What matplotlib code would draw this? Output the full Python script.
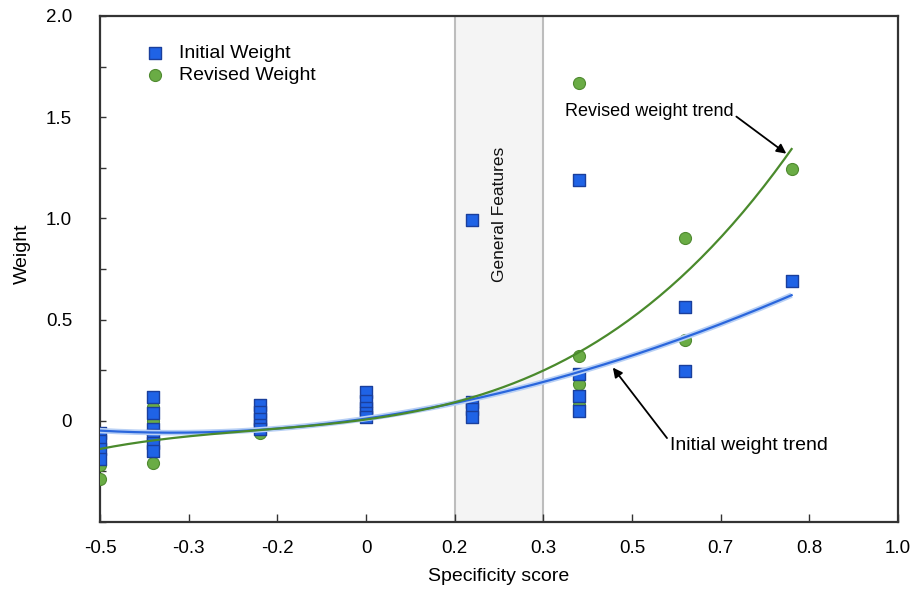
import numpy as np
import matplotlib
matplotlib.use("Agg")
import matplotlib.pyplot as plt
from matplotlib.ticker import FixedLocator, MultipleLocator

plt.rcParams['font.family'] = ['Liberation Sans', 'DejaVu Sans']

# ---- data ----
initial_x = [-0.5, -0.5, -0.5, -0.5,
             -0.4, -0.4, -0.4, -0.4, -0.4, -0.4,
             -0.2, -0.2, -0.2, -0.2, -0.2,
             0.0, 0.0, 0.0, 0.0, 0.0,
             0.2, 0.2, 0.2, 0.2,
             0.4, 0.4, 0.4, 0.4,
             0.6, 0.6,
             0.8]
initial_y = [-0.06, -0.10, -0.14, -0.19,
             0.12, 0.04, -0.04, -0.07, -0.11, -0.15,
             0.08, 0.045, 0.01, -0.02, -0.04,
             0.14, 0.10, 0.065, 0.04, 0.02,
             0.99, 0.095, 0.06, 0.02,
             1.19, 0.23, 0.124, 0.05,
             0.564, 0.247,
             0.691]

revised_x = [-0.5, -0.5,
             -0.4, -0.4, -0.4,
             -0.2,
             0.4, 0.4, 0.4, 0.4,
             0.6, 0.6,
             0.8]
revised_y = [-0.22, -0.29,
             0.07, 0.0, -0.21,
             -0.06,
             1.67, 0.32, 0.18, 0.076,
             0.905, 0.397,
             1.242]

# trend curves read at the data columns
trend_x = [-0.5, -0.4, -0.2, 0.0, 0.2, 0.4, 0.6, 0.8]
initial_trend = [-0.05, -0.06, -0.035, 0.01, 0.094, 0.245, 0.42, 0.617]
revised_trend = [-0.145, -0.095, -0.035, 0.015, 0.09, 0.33, 0.76, 1.33]

band = (1/6, 1/3)
x_ticks = [-0.5 + i / 6 for i in range(10)]
x_tick_labels = ['-0.5', '-0.3', '-0.2', '0', '0.2', '0.3', '0.5', '0.7', '0.8', '1.0']
y_ticks = [0, 0.5, 1.0, 1.5, 2.0]
y_tick_labels = ['0', '0.5', '1.0', '1.5', '2.0']

fig = plt.figure(figsize=(9.14, 5.90), dpi=100)
ax = fig.add_axes([100/914, 1 - 522/590, 798/914, 506/590])

ax.set_xlim(-0.5, 1.0)
ax.set_ylim(-0.5, 2.0)

# shaded band
ax.axvspan(band[0], band[1], facecolor='#f4f4f4', edgecolor='none', zorder=0)
for bx in band:
    ax.axvline(bx, color='#bdbdbd', lw=1.5, zorder=1)
ax.text(sum(band) / 2, 1.02, 'General Features', rotation=90, ha='center', va='center',
        fontsize=12.5, color='#111111')

# points
ax.scatter(revised_x, revised_y, marker='o', s=75, facecolor='#6aac45',
           edgecolor='#4f8a30', linewidth=0.8, zorder=3, label='Revised Weight')
ax.scatter(initial_x, initial_y, marker='s', s=75, facecolor='#1f63e6',
           edgecolor='#1a3f9c', linewidth=1.0, zorder=4, label='Initial Weight')

# trend curves
xs = np.linspace(-0.5, 0.8, 200)
pi = np.polyfit(trend_x, initial_trend, 3)
pr = np.polyfit(trend_x, revised_trend, 3)
ax.plot(xs, np.polyval(pi, xs), color='#b8d0f5', lw=4, zorder=5, solid_capstyle='butt')
ax.plot(xs, np.polyval(pi, xs), color='#2a66dc', lw=1.6, zorder=6)
ax.plot(xs, np.polyval(pr, xs), color='#4a8a2c', lw=1.6, zorder=6)

# annotations
ax.annotate('Revised weight trend', xy=(0.79, 1.32), xytext=(0.374, 1.53),
            fontsize=13, ha='left', va='center',
            arrowprops=dict(arrowstyle='-|>', color='black', lw=1.3,
                            shrinkA=0, shrinkB=0, mutation_scale=14,
                            relpos=(1.0, 0.3)))
ax.annotate('Initial weight trend', xy=(0.464, 0.263), xytext=(0.571, -0.12),
            fontsize=14, ha='left', va='center',
            arrowprops=dict(arrowstyle='-|>', color='black', lw=1.3,
                            shrinkA=0, shrinkB=0, mutation_scale=14,
                            relpos=(0.0, 0.7)))

# axes styling
ax.xaxis.set_major_locator(FixedLocator(x_ticks))
ax.set_xticklabels(x_tick_labels)
ax.yaxis.set_major_locator(FixedLocator(y_ticks))
ax.set_yticklabels(y_tick_labels)
ax.yaxis.set_minor_locator(MultipleLocator(0.25))
ax.tick_params(axis='both', which='both', direction='in', labelsize=13.5,
               color='#333333', width=1.0)
ax.tick_params(axis='x', which='major', length=6, pad=13)
ax.tick_params(axis='y', which='major', length=4, pad=20)
ax.tick_params(axis='y', which='minor', length=4)
for sp in ax.spines.values():
    sp.set_color('#333333')
    sp.set_linewidth(1.6)

ax.set_xlabel('Specificity score', fontsize=14, labelpad=8)
ax.set_ylabel('Weight', fontsize=14)
ax.yaxis.set_label_coords(-0.086, 0.53)

handles, labels = ax.get_legend_handles_labels()
ax.legend(handles[::-1], labels[::-1], loc='upper left', bbox_to_anchor=(0.045, 0.96),
          frameon=False, fontsize=14, handletextpad=0.6, labelspacing=0.25,
          borderaxespad=0, handlelength=1.2)

fig.savefig('out.png', dpi=100)
